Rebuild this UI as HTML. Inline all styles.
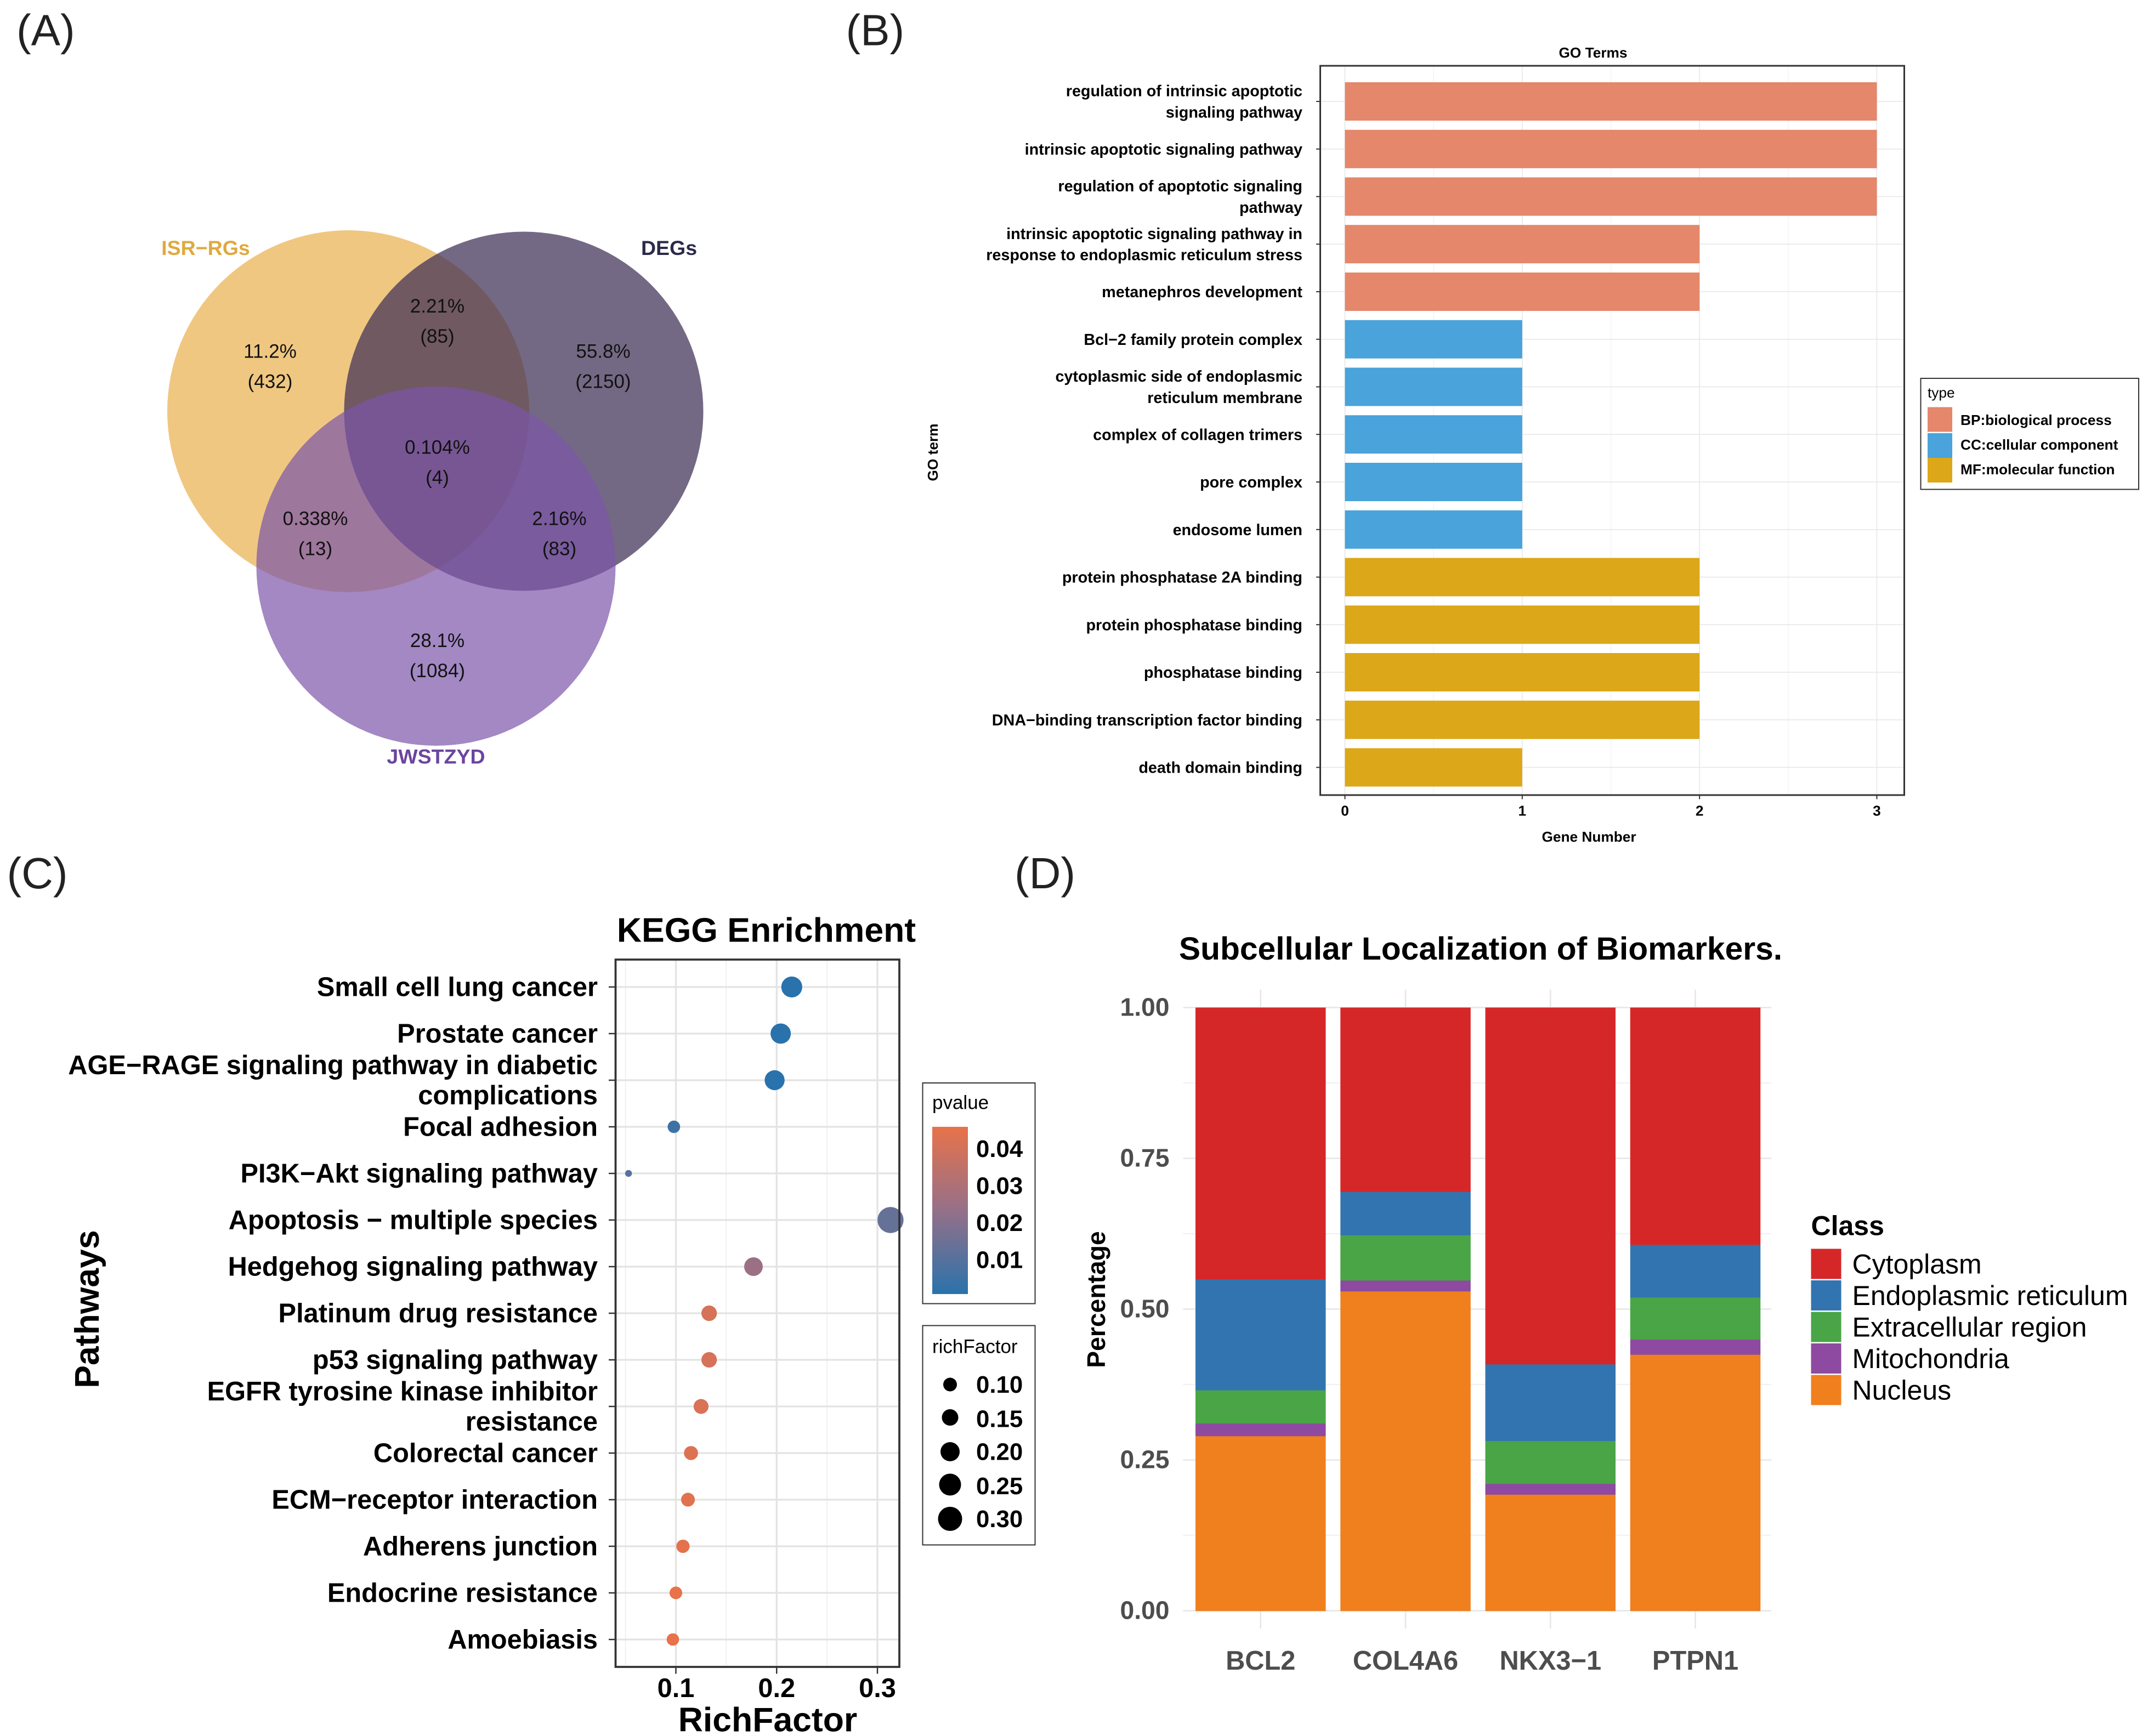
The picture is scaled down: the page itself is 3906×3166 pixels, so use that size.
<!DOCTYPE html>
<html><head><meta charset="utf-8"><style>
html,body{margin:0;padding:0;background:#fff}
svg{display:block;font-family:"Liberation Sans",Arial,sans-serif}
</style></head><body>
<svg id="fig" width="3906" height="3166" viewBox="0 0 1562.4 1266.4" xmlns="http://www.w3.org/2000/svg">
<rect width="1562.4" height="1266.4" fill="#fff"/>
<text x="12" y="33" font-size="32" fill="#222">(A)</text>
<text x="617" y="33" font-size="32" fill="#222">(B)</text>
<text x="5" y="648" font-size="32" fill="#222">(C)</text>
<text x="740" y="648" font-size="32" fill="#222">(D)</text>

<g>
<circle cx="254" cy="300" r="132" fill="#e9b457" fill-opacity="0.75"/>
<circle cx="382" cy="300" r="131" fill="#3f2f55" fill-opacity="0.72"/>
<circle cx="318" cy="413" r="131" fill="#7c55aa" fill-opacity="0.7"/>
<g font-size="14" fill="#111" text-anchor="middle">
<text x="197" y="261">11.2%</text><text x="197" y="283">(432)</text>
<text x="319" y="228">2.21%</text><text x="319" y="250">(85)</text>
<text x="440" y="261">55.8%</text><text x="440" y="283">(2150)</text>
<text x="319" y="331">0.104%</text><text x="319" y="353">(4)</text>
<text x="230" y="383">0.338%</text><text x="230" y="405">(13)</text>
<text x="408" y="383">2.16%</text><text x="408" y="405">(83)</text>
<text x="319" y="472">28.1%</text><text x="319" y="494">(1084)</text>
</g>
<text x="150" y="186" font-size="15" font-weight="bold" fill="#e0a93e" text-anchor="middle">ISR−RGs</text>
<text x="488" y="186" font-size="15" font-weight="bold" fill="#2c2a4a" text-anchor="middle">DEGs</text>
<text x="318" y="557" font-size="15" font-weight="bold" fill="#6b45a0" text-anchor="middle">JWSTZYD</text>
</g>

<g id="pb">
<text x="1162" y="42" font-size="10.5" font-weight="bold" text-anchor="middle">GO Terms</text>
<text x="1159" y="614" font-size="10.5" font-weight="bold" text-anchor="middle">Gene Number</text>
<text transform="translate(684,330) rotate(-90)" font-size="10.5" font-weight="bold" text-anchor="middle">GO term</text>
<g>
<rect x="1401" y="276" width="159" height="81" fill="#fff" stroke="#333" stroke-width="0.8"/>
<text x="1406" y="290" font-size="10.5">type</text>
<rect x="1406" y="297" width="18" height="18" fill="#e4876a"/><text x="1430" y="310" font-size="10.5" font-weight="bold">BP:biological process</text>
<rect x="1406" y="316" width="18" height="18" fill="#4aa3da"/><text x="1430" y="328" font-size="10.5" font-weight="bold">CC:cellular component</text>
<rect x="1406" y="334" width="18" height="18" fill="#dca81a"/><text x="1430" y="346" font-size="10.5" font-weight="bold">MF:molecular function</text>
</g>
</g>

<g id="pc">
<text x="559" y="687" font-size="25" font-weight="bold" text-anchor="middle">KEGG Enrichment</text>
<text x="560" y="1263" font-size="25" font-weight="bold" text-anchor="middle">RichFactor</text>
<text transform="translate(72,955) rotate(-90)" font-size="25" font-weight="bold" text-anchor="middle">Pathways</text>
<g>
<rect x="673" y="790" width="82" height="161" fill="#fff" stroke="#333" stroke-width="0.8"/>
<text x="680" y="809" font-size="14">pvalue</text>
<defs><linearGradient id="pg" x1="0" y1="1" x2="0" y2="0"><stop offset="0" stop-color="#2a72ab"/><stop offset="0.5" stop-color="#957089"/><stop offset="1" stop-color="#e8724a"/></linearGradient></defs>
<rect x="680" y="822" width="26" height="122" fill="url(#pg)"/>
<g font-size="17.5" font-weight="bold"><text x="712" y="844">0.04</text><text x="712" y="871">0.03</text><text x="712" y="898">0.02</text><text x="712" y="925">0.01</text></g>
</g>
<g>
<rect x="673" y="967" width="82" height="160" fill="#fff" stroke="#333" stroke-width="0.8"/>
<text x="680" y="987" font-size="14">richFactor</text>
<g font-size="17.5" font-weight="bold"><text x="712" y="1016">0.10</text><text x="712" y="1041">0.15</text><text x="712" y="1065">0.20</text><text x="712" y="1090">0.25</text><text x="712" y="1114">0.30</text></g>
<circle cx="693" cy="1010" r="5"/><circle cx="693" cy="1034" r="6"/><circle cx="693" cy="1059" r="7"/><circle cx="693" cy="1083" r="8"/><circle cx="693" cy="1108" r="8.8"/>
</g>
</g>

<g id="pd">
<text x="1080" y="700" font-size="23.5" font-weight="bold" text-anchor="middle">Subcellular Localization of Biomarkers.</text>
<text transform="translate(806,948) rotate(-90)" font-size="18.5" font-weight="bold" text-anchor="middle">Percentage</text>
<g>
<text x="1321" y="901" font-size="20" font-weight="bold">Class</text>
<rect x="1321" y="911" width="22" height="22" fill="#d62728"/><text x="1351" y="929" font-size="20">Cytoplasm</text>
<rect x="1321" y="934" width="22" height="22" fill="#3274b0"/><text x="1351" y="952" font-size="20">Endoplasmic reticulum</text>
<rect x="1321" y="957" width="22" height="22" fill="#49a546"/><text x="1351" y="975" font-size="20">Extracellular region</text>
<rect x="1321" y="980" width="22" height="22" fill="#8e4aa0"/><text x="1351" y="998" font-size="20">Mitochondria</text>
<rect x="1321" y="1003" width="22" height="22" fill="#f07f1e"/><text x="1351" y="1021" font-size="20">Nucleus</text>
</g>
</g>
</svg>
<script>
const goTerms = [["regulation of intrinsic apoptotic","signaling pathway"],["intrinsic apoptotic signaling pathway"],["regulation of apoptotic signaling","pathway"],["intrinsic apoptotic signaling pathway in","response to endoplasmic reticulum stress"],["metanephros development"],["Bcl−2 family protein complex"],["cytoplasmic side of endoplasmic","reticulum membrane"],["complex of collagen trimers"],["pore complex"],["endosome lumen"],["protein phosphatase 2A binding"],["protein phosphatase binding"],["phosphatase binding"],["DNA−binding transcription factor binding"],["death domain binding"]];
const goCounts = [3,3,3,2,2,1,1,1,1,1,2,2,2,2,1];
const goTypes = ["BP","BP","BP","BP","BP","CC","CC","CC","CC","CC","MF","MF","MF","MF","MF"];
const goTicks = [0,1,2,3];
const keggPaths = [["Small cell lung cancer"],["Prostate cancer"],["AGE−RAGE signaling pathway in diabetic","complications"],["Focal adhesion"],["PI3K−Akt signaling pathway"],["Apoptosis − multiple species"],["Hedgehog signaling pathway"],["Platinum drug resistance"],["p53 signaling pathway"],["EGFR tyrosine kinase inhibitor","resistance"],["Colorectal cancer"],["ECM−receptor interaction"],["Adherens junction"],["Endocrine resistance"],["Amoebiasis"]];
const keggRich = [0.215,0.204,0.198,0.098,0.053,0.313,0.177,0.133,0.133,0.125,0.115,0.112,0.107,0.100,0.097];
const keggP = [0.001,0.001,0.001,0.005,0.011,0.014,0.026,0.042,0.042,0.043,0.044,0.045,0.046,0.047,0.047];
const keggTicks = [0.1,0.2,0.3];
const genes = ["BCL2","COL4A6","NKX3−1","PTPN1"];
const nucleus = [0.29,0.53,0.193,0.425];
const mito = [0.021,0.018,0.018,0.025];
const extra = [0.055,0.075,0.071,0.07];
const er = [0.184,0.072,0.127,0.087];
const cyto = [0.45,0.305,0.591,0.393];
const pctTicks = ["0.00","0.25","0.50","0.75","1.00"];

const NS="http://www.w3.org/2000/svg";
function mk(parent,tag,attrs){const e=document.createElementNS(NS,tag);for(const k in attrs)e.setAttribute(k,attrs[k]);parent.appendChild(e);return e;}

(function(){
const g=document.getElementById('pb');
const L=963,R=1389,T=48,B=580;
const x=v=>981+v*129.33, y=i=>74+i*34.7;
mk(g,'rect',{x:L,y:T,width:R-L,height:B-T,fill:'#fff'});
for(let v=0;v<=3;v+=0.5)mk(g,'line',{x1:x(v),x2:x(v),y1:T,y2:B,stroke:v%1?'#f3f3f3':'#e6e6e6','stroke-width':0.6});
goTerms.forEach((t,i)=>mk(g,'line',{x1:L,x2:R,y1:y(i),y2:y(i),stroke:'#e6e6e6','stroke-width':0.6}));
const col={BP:'#e4876a',CC:'#4aa3da',MF:'#dca81a'};
goCounts.forEach((c,i)=>{
 const r=mk(g,'rect',{x:x(0),y:y(i)-14,width:x(c)-x(0),height:28,fill:col[goTypes[i]]});
 
 
 const lines=goTerms[i];
 lines.forEach((s,j)=>{const tx=mk(g,'text',{x:950,y:y(i)+4+(j-(lines.length-1)/2)*15.5,'font-size':11.5,'font-weight':'bold','text-anchor':'end'});tx.textContent=s;});
 mk(g,'line',{x1:L-3,x2:L,y1:y(i),y2:y(i),stroke:'#333','stroke-width':0.8});
});
mk(g,'rect',{x:L,y:T,width:R-L,height:B-T,fill:'none',stroke:'#333','stroke-width':1.2});
goTicks.forEach(v=>{mk(g,'line',{x1:x(v),x2:x(v),y1:B,y2:B+3,stroke:'#333','stroke-width':0.8});const t=mk(g,'text',{x:x(v),y:B+15,'font-size':10.5,'font-weight':'bold','text-anchor':'middle'});t.textContent=v;});
})();

(function(){
const g=document.getElementById('pc');
const L=449,R=656,T=700,B=1216;
const x=v=>493+(v-0.1)*735, y=i=>720+i*34;
const bg=document.createElementNS(NS,'g');g.insertBefore(bg,g.firstChild);
[0.05,0.15,0.25].forEach(v=>mk(bg,'line',{x1:x(v),x2:x(v),y1:T,y2:B,stroke:'#f0f0f0','stroke-width':0.8}));
keggTicks.forEach(v=>mk(bg,'line',{x1:x(v),x2:x(v),y1:T,y2:B,stroke:'#e3e3e3','stroke-width':1.3}));
keggPaths.forEach((p,i)=>mk(bg,'line',{x1:L,x2:R,y1:y(i),y2:y(i),stroke:'#e3e3e3','stroke-width':1.3}));
function pcol(p){const t=Math.max(0,Math.min(1,(p-0.001)/0.046));
 const a=[42,114,171],m=[149,112,137],b=[232,114,74];let c;
 if(t<0.5){const u=t/0.5;c=a.map((v,k)=>v+(m[k]-v)*u);}else{const u=(t-0.5)/0.5;c=m.map((v,k)=>v+(b[k]-v)*u);}
 return 'rgb('+c.map(Math.round).join(',')+')';}
keggRich.forEach((v,i)=>{
 const c=mk(g,'circle',{cx:x(v),cy:y(i),r:Math.sqrt(Math.max(4,-10.8+322*v)),fill:pcol(keggP[i])});
 
 
 const lines=keggPaths[i];
 lines.forEach((s,j)=>{const t=mk(g,'text',{x:436,y:y(i)+6.5+(j-(lines.length-1)/2)*22,'font-size':19.5,'font-weight':'bold','text-anchor':'end'});t.textContent=s;});
 mk(g,'line',{x1:L-5,x2:L,y1:y(i),y2:y(i),stroke:'#333','stroke-width':1});
});
mk(g,'rect',{x:L,y:T,width:R-L,height:B-T,fill:'none',stroke:'#333','stroke-width':1.5});
keggTicks.forEach(v=>{mk(g,'line',{x1:x(v),x2:x(v),y1:B,y2:B+5,stroke:'#333','stroke-width':1});const t=mk(g,'text',{x:x(v),y:B+22,'font-size':19.5,'font-weight':'bold','text-anchor':'middle'});t.textContent=v;});
})();

(function(){
const g=document.getElementById('pd');
const y=v=>1175-v*440, cx=i=>919.5+i*105.7;
const bg=document.createElementNS(NS,'g');g.insertBefore(bg,g.firstChild);
for(let v=0;v<=1.001;v+=0.125)mk(bg,'line',{x1:863,x2:1292,y1:y(v),y2:y(v),stroke:(Math.round(v*8)%2)?'#f2f2f2':'#e6e6e6','stroke-width':1});
genes.forEach((n,i)=>mk(bg,'line',{x1:cx(i),x2:cx(i),y1:722,y2:1188,stroke:'#e6e6e6','stroke-width':1}));
const series=[nucleus,mito,extra,er,cyto];
const cols=['#f07f1e','#8e4aa0','#49a546','#3274b0','#d62728'];
const names=['nucleus','mitochondria','extracellular','er','cytoplasm'];
genes.forEach((n,i)=>{
 let acc=0;
 series.forEach((s,k)=>{
  const r=mk(g,'rect',{x:cx(i)-47.5,y:y(acc+s[i]),width:95,height:y(acc)-y(acc+s[i])+0.3,fill:cols[k]});
  
  
  acc+=s[i];
 });
 const t=mk(g,'text',{x:cx(i),y:1218,'font-size':19.5,'font-weight':'bold','fill':'#4d4d4d','text-anchor':'middle'});t.textContent=n;
});
pctTicks.forEach(s=>{const t=mk(g,'text',{x:853,y:y(+s)+6,'font-size':18.5,'font-weight':'bold','fill':'#4d4d4d','text-anchor':'end'});t.textContent=s;});
})();
</script>
</body></html>
